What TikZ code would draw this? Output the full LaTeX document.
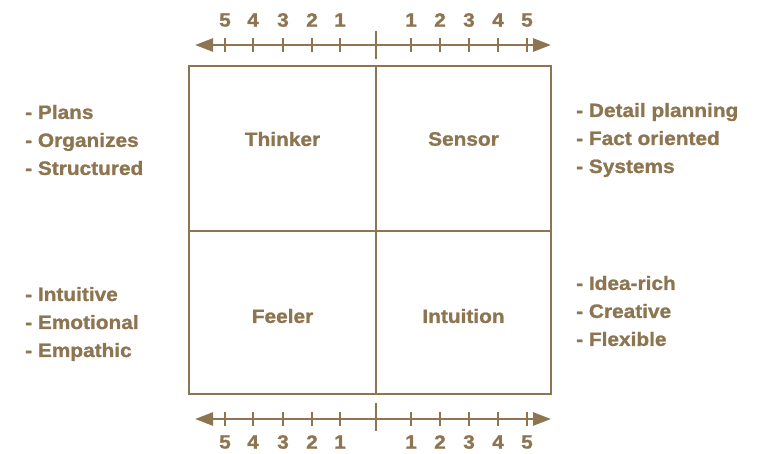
\documentclass[tikz,border=0pt]{standalone}
\usepackage{fontspec}
\setmainfont{Liberation Sans}[FakeStretch=1.08,FakeBold=1.2]
\usetikzlibrary{arrows.meta}
\definecolor{tan}{RGB}{140,117,80}
\tikzset{
  cell/.style={draw=tan, line width=2pt, inner sep=0pt},
  celltext/.style={font=\fontsize{19.3}{19}\selectfont\bfseries, text=tan, inner sep=0pt},
  axisline/.style={draw=tan, line width=2.6pt, {Triangle[length=18pt,width=13pt]}-{Triangle[length=18pt,width=13pt]}},
  tick/.style={draw=tan, line width=2pt},
  num/.style={font=\fontsize{19.3}{19}\selectfont\bfseries, text=tan, inner sep=0pt},
  lst/.style={font=\fontsize{19.3}{28}\selectfont\bfseries, text=tan, align=left, anchor=west, inner sep=0pt}
}
\begin{document}
\begin{tikzpicture}[x=1pt,y=1pt]
\useasboundingbox (0,0) rectangle (758,-453);
% quadrants
\node[cell, minimum width=187pt, minimum height=165pt] (thinker) at (282.5,-148.5) {};
\node[cell, minimum width=175pt, minimum height=165pt] (sensor) at (463.5,-148.5) {};
\node[cell, minimum width=187pt, minimum height=163pt] (feeler) at (282.5,-312.5) {};
\node[cell, minimum width=175pt, minimum height=163pt] (intuition) at (463.5,-312.5) {};
\node[celltext] (tthinker) at (282.5,-139) {Thinker};
\node[celltext] (tsensor) at (463.5,-139) {Sensor};
\node[celltext] (tfeeler) at (282.5,-316) {Feeler};
\node[celltext] (tintuition) at (463.5,-316) {Intuition};
% top axis
\coordinate (tl) at (195,-45);
\coordinate (tr) at (551,-45);
\draw[axisline] (tl) -- (tr);
\draw[tick] (376,-31) -- (376,-59);
% bottom axis
\coordinate (bl) at (195,-419);
\coordinate (br) at (551,-419);
\draw[axisline] (bl) -- (br);
\draw[tick] (376,-403) -- (376,-431);
\foreach \x/\n in {225/5,253/4,283/3,312/2,340/1,411/1,440/2,469/3,498/4,527/5}{
  \draw[tick] (\x,-38) -- (\x,-52);
  \draw[tick] (\x,-412) -- (\x,-426);
  \node[num] at (\x,-20) {\n};
  \node[num] at (\x,-442) {\n};
}
% side lists
\node[lst] (l1) at (25,-140) {- Plans\\- Organizes\\- Structured};
\node[lst] (r1) at (576,-140) {- Detail planning\\- Fact oriented\\- Systems};
\node[lst] (l2) at (25,-324) {- Intuitive\\- Emotional\\- Empathic};
\node[lst] (r2) at (576,-311) {- Idea-rich\\- Creative\\- Flexible};
\end{tikzpicture}
\end{document}
